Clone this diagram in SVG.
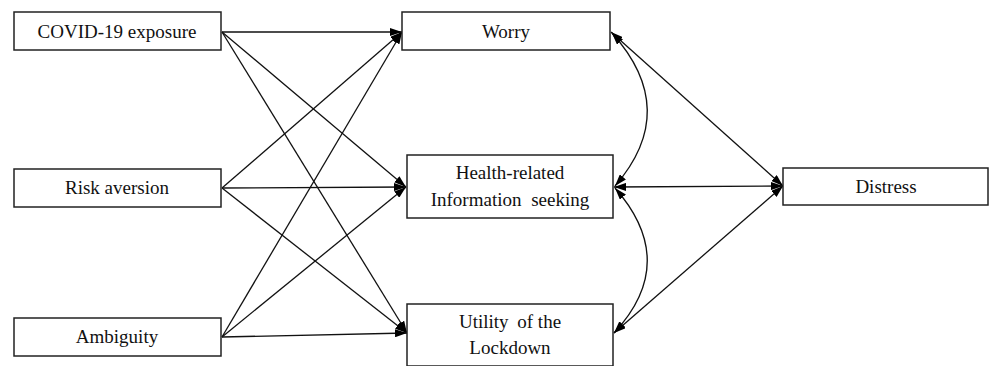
<svg xmlns="http://www.w3.org/2000/svg" width="989" height="366" viewBox="0 0 989 366">
<style>
.box{fill:#fff;stroke:#222;stroke-width:1.5}
.lbl{font-family:"Liberation Serif","Times New Roman",serif;font-size:19px;fill:#111;text-anchor:middle}
.ln{fill:none;stroke:#111;stroke-width:1.3}
.ar{marker-end:url(#ah)}
.dbl{marker-start:url(#ah);marker-end:url(#ah)}
</style>
<defs>
<marker id="ah" viewBox="0 0 12 8" refX="12" refY="4" markerWidth="12" markerHeight="8" markerUnits="userSpaceOnUse" orient="auto-start-reverse">
<path d="M0,0 L12,4 L0,8 z" fill="#000"/>
</marker>
</defs>
<rect width="989" height="366" fill="#fff"/>
<g id="connectors">
<line class="ln ar" x1="222" y1="32" x2="402" y2="32"/>
<line class="ln ar" x1="222" y1="32" x2="406" y2="187"/>
<line class="ln ar" x1="222" y1="32" x2="407" y2="333"/>
<line class="ln ar" x1="222" y1="188" x2="402" y2="32"/>
<line class="ln ar" x1="222" y1="188" x2="406" y2="187"/>
<line class="ln ar" x1="222" y1="188" x2="407" y2="333"/>
<line class="ln ar" x1="222" y1="337" x2="402" y2="32"/>
<line class="ln ar" x1="222" y1="337" x2="406" y2="187"/>
<line class="ln ar" x1="222" y1="337" x2="407" y2="333"/>
<line class="ln dbl" x1="611" y1="32" x2="783" y2="186"/>
<line class="ln dbl" x1="614" y1="187" x2="783" y2="186"/>
<line class="ln dbl" x1="614" y1="333" x2="783" y2="186"/>
<path class="ln dbl" d="M612,33 Q681,110 615,186"/>
<path class="ln dbl" d="M615,188 Q680,262 614,333"/>
</g>
<g id="covid"><rect class="box" x="14" y="12" width="207" height="38"/><text class="lbl" x="117" y="38">COVID-19 exposure</text></g>
<g id="risk"><rect class="box" x="14" y="169" width="207" height="38"/><text class="lbl" x="117" y="194">Risk aversion</text></g>
<g id="ambiguity"><rect class="box" x="14" y="318" width="207" height="38"/><text class="lbl" x="117" y="343">Ambiguity</text></g>
<g id="worry"><rect class="box" x="402" y="12" width="208" height="38"/><text class="lbl" x="506" y="38">Worry</text></g>
<g id="health"><rect class="box" x="407" y="155" width="206" height="63"/><text class="lbl" x="510" y="179">Health-related</text><text class="lbl" x="510" y="206" word-spacing="5">Information seeking</text></g>
<g id="utility"><rect class="box" x="407" y="304" width="206" height="62"/><text class="lbl" x="510" y="328">Utility <tspan dx="4">of the</tspan></text><text class="lbl" x="510" y="354">Lockdown</text></g>
<g id="distress"><rect class="box" x="783" y="168" width="205" height="37"/><text class="lbl" x="886" y="193">Distress</text></g>
</svg>
